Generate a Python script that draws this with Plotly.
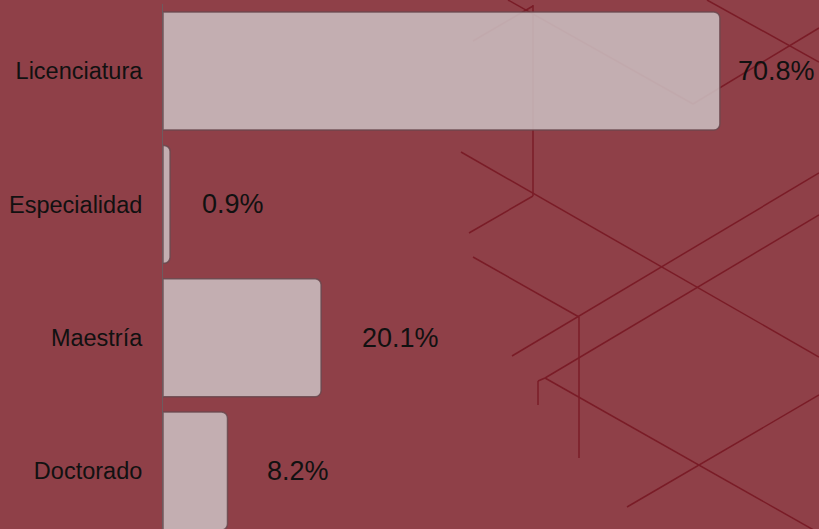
import plotly.graph_objects as go

# ---- data ----
categories = ["Licenciatura", "Especialidad", "Maestría", "Doctorado"]
values = [70.8, 0.9, 20.1, 8.2]
value_labels = ["70.8%", "0.9%", "20.1%", "8.2%"]

# ---- style ----
label_xshift = [16, 30, 39, 37]
BG = "#8F4048"
BAR = "rgba(203,189,191,0.88)"
LINE = "#7A1C27"

W, H = 819, 529
ML, MT = 163, 4
PW, PH = W - ML, H - MT

def px(x):
    return (x - ML) / PW

def py(y):
    return 1 - (y - MT) / PH

# decorative background lines in pixel coordinates
deco = [
    ((508, 0), (693, 104)),
    ((693, 104), (819, 28)),
    ((473, 41), (533, 6)),
    ((533, 5), (533, 196)),
    ((707, 0), (819, 62)),
    ((461, 152), (819, 357)),
    ((469, 233), (533, 196)),
    ((473, 257), (579, 317)),
    ((512, 356), (819, 173)),
    ((545, 378), (819, 215)),
    ((538, 381), (545, 378)),
    ((538, 381), (538, 405)),
    ((545, 378), (819, 533)),
    ((579, 317), (579, 458)),
    ((627, 507), (819, 395)),
]

shapes = []
for (x0, y0), (x1, y1) in deco:
    shapes.append(dict(
        type="line", xref="paper", yref="paper",
        x0=px(x0), y0=py(y0), x1=px(x1), y1=py(y1),
        line=dict(color=LINE, width=1.5), layer="below",
    ))

fig = go.Figure()
fig.add_trace(go.Bar(
    y=categories, x=values, orientation="h",
    width=0.885,
    marker=dict(color=BAR, line=dict(color="rgba(105,72,78,0.85)", width=1.5),
                cornerradius=6),
    hoverinfo="skip",
))

annotations = []
for c, v, t, s in zip(categories, values, value_labels, label_xshift):
    annotations.append(dict(
        x=v, y=c, xref="x", yref="y", text=t, showarrow=False,
        xanchor="left", yanchor="middle", xshift=s,
        font=dict(family="Liberation Sans, Arial, sans-serif", size=27, color="#111111"),
    ))

fig.update_layout(
    width=W, height=H,
    margin=dict(l=ML, r=0, t=MT, b=0),
    paper_bgcolor=BG, plot_bgcolor=BG,
    showlegend=False,
    shapes=shapes,
    annotations=annotations,
    xaxis=dict(range=[0, 83.4], visible=False, fixedrange=True),
    yaxis=dict(
        categoryorder="array", categoryarray=categories,
        range=[3.435, -0.503],
        showline=True, linecolor="#6E5A5E", linewidth=1,
        showgrid=False, zeroline=False, ticks="",
        ticklabelstandoff=15,
        tickfont=dict(family="Liberation Sans, Arial, sans-serif", size=23.5, color="#111111"),
        fixedrange=True,
    ),
)

fig.write_html(
    "out.html",
    config={"displayModeBar": False},
    post_script="document.body.style.margin='0';document.body.style.overflow='hidden';document.body.style.background='" + BG + "';",
)
